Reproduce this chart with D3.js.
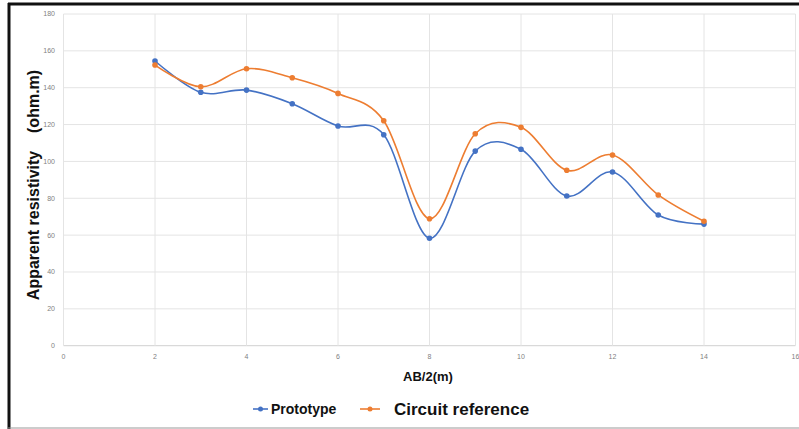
<!DOCTYPE html>
<html>
<head>
<script src="https://d3js.org/d3.v7.min.js"></script>
<style>
  body { margin: 0; background: #fff; }
  svg { display: block; }
</style>
</head>
<body>
<script>
const width = 799;
const height = 429;

// AB/2 spacing (m)
const abHalf = [2, 3, 4, 5, 6, 7, 8, 9, 10, 11, 12, 13, 14];
// apparent resistivity (ohm.m)
const prototype = [154.5, 137.5, 138.7, 131.3, 119.2, 114.5, 58.3, 105.6, 106.6, 81.2, 94.3, 70.9, 66.0];
const circuitRef = [152.3, 140.5, 150.3, 145.4, 136.9, 122.1, 68.9, 115.0, 118.5, 95.2, 103.5, 81.8, 67.5];

const xTicks = [0, 2, 4, 6, 8, 10, 12, 14, 16];
const yTicks = [0, 20, 40, 60, 80, 100, 120, 140, 160, 180];

const series = [
  { name: "Prototype", values: prototype, color: "#4472C4" },
  { name: "Circuit reference", values: circuitRef, color: "#ED7D31" }
];

const svg = d3.select("body").append("svg")
  .attr("width", width)
  .attr("height", height);

// frame
svg.append("line").attr("x1", 8).attr("x2", width).attr("y1", 4).attr("y2", 4)
  .attr("stroke", "#111").attr("stroke-width", 3);
svg.append("line").attr("x1", 9).attr("x2", 9).attr("y1", 3).attr("y2", height)
  .attr("stroke", "#111").attr("stroke-width", 3);
svg.append("line").attr("x1", 8).attr("x2", width).attr("y1", 428).attr("y2", 428)
  .attr("stroke", "#999").attr("stroke-width", 1);

const x = d3.scaleLinear().domain([0, 16]).range([63.5, 795.5]);
const y = d3.scaleLinear().domain([0, 180]).range([345.7, 14]);

// grid
svg.append("g").selectAll("line").data(yTicks).join("line")
  .attr("x1", x(0)).attr("x2", x(16))
  .attr("y1", d => y(d)).attr("y2", d => y(d))
  .attr("stroke", d => d === 0 ? "#d0d0d0" : "#e4e4e4").attr("stroke-width", 1);
svg.append("g").selectAll("line").data(xTicks).join("line")
  .attr("x1", d => x(d)).attr("x2", d => x(d))
  .attr("y1", y(0)).attr("y2", y(180))
  .attr("stroke", "#e4e4e4").attr("stroke-width", 1);

// tick labels
svg.append("g").selectAll("text").data(yTicks).join("text")
  .attr("x", 55).attr("y", d => y(d))
  .attr("dy", "0.35em")
  .attr("text-anchor", "end")
  .attr("font-family", "Liberation Sans, Arial, sans-serif")
  .attr("font-size", 7)
  .attr("fill", "#7f7f7f")
  .text(d => d);
svg.append("g").selectAll("text").data(xTicks).join("text")
  .attr("x", d => x(d)).attr("y", 359)
  .attr("text-anchor", "middle")
  .attr("font-family", "Liberation Sans, Arial, sans-serif")
  .attr("font-size", 7)
  .attr("fill", "#7f7f7f")
  .text(d => d);

// axis titles
svg.append("text")
  .attr("x", 428).attr("y", 381)
  .attr("text-anchor", "middle")
  .attr("font-family", "Liberation Sans, Arial, sans-serif")
  .attr("font-weight", "bold")
  .attr("font-size", 13)
  .attr("fill", "#111")
  .text("AB/2(m)");
svg.append("text")
  .attr("transform", "translate(39,185) rotate(-90)")
  .attr("text-anchor", "middle")
  .attr("font-family", "Liberation Sans, Arial, sans-serif")
  .attr("font-weight", "bold")
  .attr("font-size", 16)
  .attr("fill", "#111")
  .style("white-space", "pre")
  .text("Apparent resistivity    (ohm.m)");

// smoothed lines
const line = d3.line()
  .x(d => x(d[0]))
  .y(d => y(d[1]))
  .curve(d3.curveCardinal.tension(0));

series.forEach(s => {
  const pts = abHalf.map((a, i) => [a, s.values[i]]);
  svg.append("path")
    .datum(pts)
    .attr("d", line)
    .attr("fill", "none")
    .attr("stroke", s.color)
    .attr("stroke-width", 1.6);
  svg.append("g").selectAll("circle").data(pts).join("circle")
    .attr("cx", d => x(d[0]))
    .attr("cy", d => y(d[1]))
    .attr("r", 2.8)
    .attr("fill", s.color);
});

// legend
const legend = [
  { s: series[0], x0: 253, x1: 268, tx: 271, size: 14 },
  { s: series[1], x0: 360, x1: 380, tx: 394, size: 17 }
];
legend.forEach(l => {
  const g = svg.append("g");
  g.append("line")
    .attr("x1", l.x0).attr("x2", l.x1).attr("y1", 409).attr("y2", 409)
    .attr("stroke", l.s.color).attr("stroke-width", 1.6);
  g.append("circle")
    .attr("cx", (l.x0 + l.x1) / 2).attr("cy", 409).attr("r", 2.5)
    .attr("fill", l.s.color);
  g.append("text")
    .attr("x", l.tx).attr("y", 409)
    .attr("dy", "0.36em")
    .attr("font-family", "Liberation Sans, Arial, sans-serif")
    .attr("font-weight", "bold")
    .attr("font-size", l.size)
    .attr("fill", "#111")
    .text(l.s.name);
});
</script>
</body>
</html>
